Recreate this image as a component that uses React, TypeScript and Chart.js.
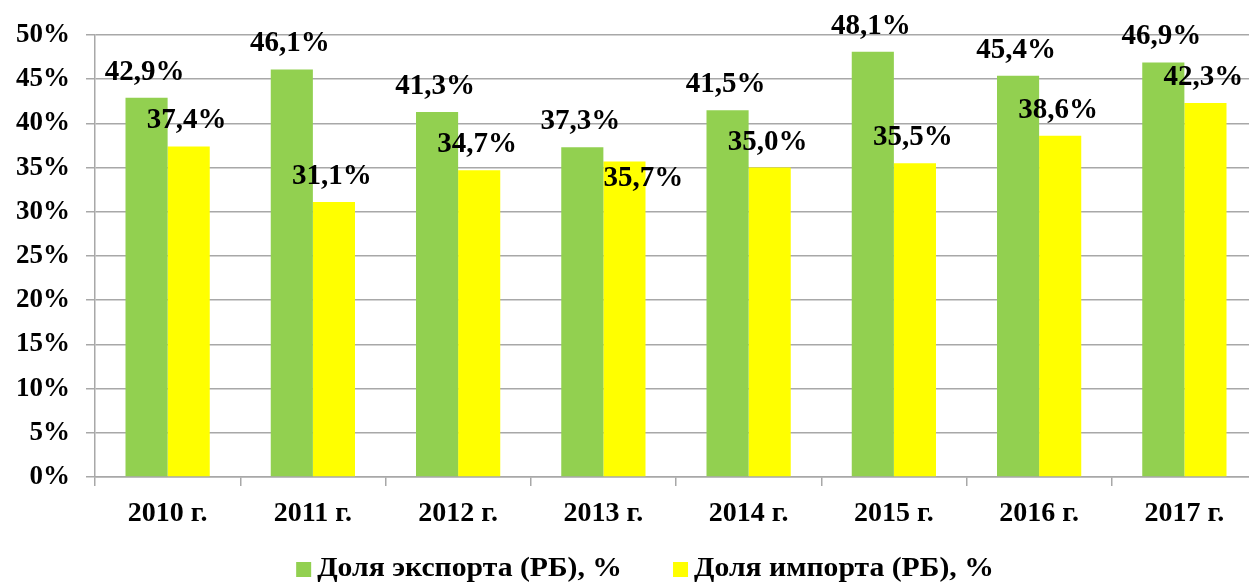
import React, { useEffect, useRef } from 'react';
import { Chart, registerables } from 'chart.js';

Chart.register(...registerables);

const categories = ['2010 г.', '2011 г.', '2012 г.', '2013 г.', '2014 г.', '2015 г.', '2016 г.', '2017 г.'];
const exportShare = [42.9, 46.1, 41.3, 37.3, 41.5, 48.1, 45.4, 46.9];
const importShare = [37.4, 31.1, 34.7, 35.7, 35.0, 35.5, 38.6, 42.3];
const seriesNames = ['Доля экспорта (РБ), %', 'Доля импорта (РБ), %'];
const seriesColors = ['#92D050', '#FFFF00'];
const yMin = 0;
const yMax = 50;
const yStep = 5;

const FONT = "'Liberation Serif', 'Times New Roman', serif";
const GRID = '#a8a8a8';

const fmt = (v: number) => v.toFixed(1).replace('.', ',') + '%';

const dataLabels = {
  id: 'dataLabels',
  afterDatasetsDraw(chart: any) {
    const ctx = chart.ctx;
    ctx.save();
    ctx.font = `bold 29px ${FONT}`;
    ctx.fillStyle = '#000000';
    ctx.textAlign = 'center';
    ctx.textBaseline = 'alphabetic';
    chart.data.datasets.forEach((ds: any, di: number) => {
      const meta = chart.getDatasetMeta(di);
      meta.data.forEach((bar: any, i: number) => {
        // the 2013 import label sits lower and to the right in the reference
        const moved = di === 1 && i === 3;
        const dx = moved ? 19 : -2;
        const dy = moved ? 43 : 0;
        ctx.fillText(fmt(ds.data[i]), bar.x + dx, bar.y - 18 + dy);
      });
    });
    ctx.restore();
  },
};

// Legend drawn at the bottom, centred under the plot like the reference
const bottomLegend = {
  id: 'bottomLegend',
  afterDraw(chart: any) {
    const ctx = chart.ctx;
    const stretch = 1.1;
    const box = 15;
    const textGap = 6;
    const itemGap = 51;
    const cy = 569.5;
    ctx.save();
    ctx.font = `bold 27px ${FONT}`;
    const items = chart.data.datasets.map((ds: any) => ({
      text: ds.label as string,
      color: ds.backgroundColor as string,
      w: ctx.measureText(ds.label).width * stretch,
    }));
    const total =
      items.reduce((s: number, it: any) => s + box + textGap + it.w, 0) + itemGap * (items.length - 1);
    const centerX = (chart.chartArea.left + chart.chartArea.right) / 2 - 31;
    let x = centerX - total / 2;
    items.forEach((it: any) => {
      ctx.fillStyle = it.color;
      ctx.fillRect(x, cy - 7.5, box, box);
      x += box + textGap;
      ctx.save();
      ctx.translate(x, cy);
      ctx.scale(stretch, 1);
      ctx.fillStyle = '#000000';
      ctx.textAlign = 'left';
      ctx.textBaseline = 'middle';
      ctx.fillText(it.text, 0, 0);
      ctx.restore();
      x += it.w + itemGap;
    });
    ctx.restore();
  },
};

export default function App() {
  const ref = useRef<HTMLCanvasElement>(null);

  useEffect(() => {
    if (!ref.current) return;
    const chart = new Chart(ref.current, {
      type: 'bar',
      data: {
        labels: categories,
        datasets: [
          {
            label: seriesNames[0],
            data: exportShare,
            backgroundColor: seriesColors[0],
            borderWidth: 0,
            categoryPercentage: 0.58,
            barPercentage: 1.0,
          },
          {
            label: seriesNames[1],
            data: importShare,
            backgroundColor: seriesColors[1],
            borderWidth: 0,
            categoryPercentage: 0.58,
            barPercentage: 1.0,
          },
        ],
      },
      options: {
        animation: false,
        responsive: true,
        maintainAspectRatio: false,
        layout: { padding: { left: 8, right: 5, top: 35, bottom: 0 } },
        plugins: {
          tooltip: { enabled: false },
          legend: { display: false },
        },
        scales: {
          x: {
            offset: true,
            grid: {
              display: true,
              offset: true,
              drawOnChartArea: false,
              drawTicks: true,
              tickLength: 9,
              color: GRID,
              lineWidth: 1.5,
            },
            border: { display: true, color: GRID, width: 1.5 },
            ticks: {
              color: '#000000',
              font: { family: FONT, size: 28, weight: 'bold' },
              padding: 11,
              maxRotation: 0,
              autoSkip: false,
            },
            afterFit(scale: any) {
              scale.height = 583 - 477;
            },
          },
          y: {
            min: yMin,
            max: yMax,
            grid: {
              color: GRID,
              lineWidth: 1.5,
              drawTicks: true,
              tickLength: 9,
            },
            border: { display: true, color: GRID, width: 1.5 },
            ticks: {
              stepSize: yStep,
              color: '#000000',
              font: { family: FONT, size: 27, weight: 'bold' },
              padding: 16,
              callback: (v: any) => v + '%',
            },
            afterFit(scale: any) {
              scale.width = 95 - 8;
            },
          },
        },
      },
      plugins: [dataLabels, bottomLegend],
    });
    return () => chart.destroy();
  }, []);

  return (
    <div style={{ position: 'fixed', left: 0, top: 0, width: 1262, height: 583 }}>
      <canvas ref={ref} />
    </div>
  );
}
